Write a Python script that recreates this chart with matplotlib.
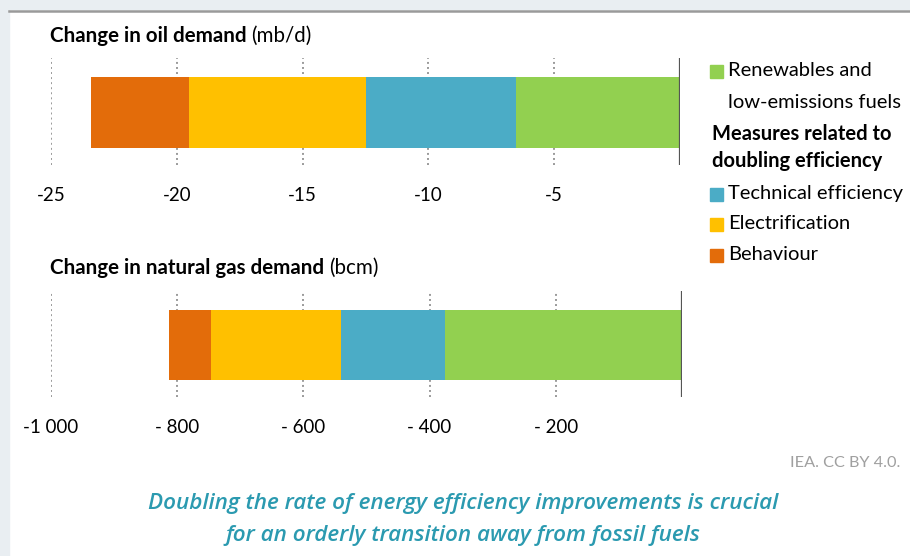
import matplotlib.pyplot as plt
from matplotlib.patches import Rectangle

W, H = 910, 556

# data (stack order: renewables next to zero, then technical, electrification, behaviour)
categories = ['Renewables and low-emissions fuels', 'Technical efficiency', 'Electrification', 'Behaviour']
colors = ['#92D050', '#4BACC6', '#FFC000', '#E36C0A']
oil_values = [-6.5, -6.0, -7.0, -3.9]
gas_values = [-375, -165, -206, -67]
oil_ticks = [-25, -20, -15, -10, -5]
oil_ticklabels = ['-25', '-20', '-15', '-10', '-5']
gas_ticks = [-1000, -800, -600, -400, -200]
gas_ticklabels = ['-1 000', '- 800', '- 600', '- 400', '- 200']

plt.rcParams['font.family'] = ['Lato', 'DejaVu Sans']


def px_axes(fig, left, top, right, bottom):
    return fig.add_axes([left / W, 1 - bottom / H, (right - left) / W, (bottom - top) / H])


def draw_bar(ax, values, ticks, ticklabels, xlim, ylim):
    left = 0
    for v, c in zip(values, colors):
        ax.barh(0, v, left=left, height=1, color=c, zorder=3)
        left += v
    for t in ticks:
        ax.axvline(t, color='#9A9A9A', linestyle=(0, (1, 1.6)), lw=1.4, zorder=1)
    ax.axvline(0, color='#555555', lw=1.6, zorder=4)
    ax.set_xlim(xlim)
    ax.set_ylim(ylim)
    ax.set_xticks(ticks, ticklabels)
    ax.set_yticks([])
    ax.tick_params(axis='x', length=0, pad=16, labelsize=13.5, labelcolor='black')
    for s in ax.spines.values():
        s.set_visible(False)
    ax.patch.set_alpha(0)


def title_text(fig, x, y, bold, normal):
    t = fig.text(x / W, 1 - y / H, bold, fontsize=14.8, fontweight='bold', va='center')
    r = fig.canvas.get_renderer()
    bb = t.get_window_extent(r)
    fig.text(bb.x1 / W + 5 / W, 1 - y / H, normal, fontsize=14.8, va='center')


fig = plt.figure(figsize=(W / 100, H / 100), dpi=100, facecolor='white')

# page frame
fig.add_artist(Rectangle((0, 0), 9 / W, 1, transform=fig.transFigure, color='#E9EEF2', zorder=0))
fig.add_artist(Rectangle((0, 1 - 9 / H), 1, 9 / H, transform=fig.transFigure, color='#E9EEF2', zorder=0))
fig.add_artist(plt.Line2D([9 / W, 1], [1 - 10.5 / H, 1 - 10.5 / H], transform=fig.transFigure,
                          color='#9A9A9A', lw=1.8))

# oil
ax1 = px_axes(fig, 51, 58, 680, 165)
draw_bar(ax1, oil_values, oil_ticks, oil_ticklabels, (-25, 0),
         (-0.5 - (165 - 147.7) / 71, 0.5 + (76.7 - 58) / 71))
title_text(fig, 50, 36, 'Change in oil demand', '(mb/d)')

# gas
ax2 = px_axes(fig, 51, 291, 682, 397)
draw_bar(ax2, gas_values, gas_ticks, gas_ticklabels, (-1000, 0),
         (-0.5 - (397 - 380) / 70, 0.5 + (310 - 291) / 70))
title_text(fig, 50, 268, 'Change in natural gas demand', '(bcm)')

# legend
LEG_FS = 14.5


def legend_item(y, color, text):
    fig.add_artist(Rectangle((710 / W, 1 - (y + 6.5) / H), 12.5 / W, 12.5 / H,
                             transform=fig.transFigure, color=color))
    fig.text(728 / W, 1 - y / H, text, fontsize=LEG_FS, va='center')


legend_item(71, colors[0], 'Renewables and')
fig.text(728 / W, 1 - 102 / H, 'low-emissions fuels', fontsize=LEG_FS, va='center')
fig.text(712 / W, 1 - 134 / H, 'Measures related to', fontsize=LEG_FS, fontweight='bold', va='center')
fig.text(712 / W, 1 - 161 / H, 'doubling efficiency', fontsize=LEG_FS, fontweight='bold', va='center')
legend_item(194, colors[1], 'Technical efficiency')
legend_item(224, colors[2], 'Electrification')
legend_item(255, colors[3], 'Behaviour')

# source and caption
fig.text(900 / W, 1 - 463 / H, 'IEA. CC BY 4.0.', fontsize=11.7, color='#A0A0A0', ha='right', va='center')
cap = dict(fontsize=16.2, color='#2B9AB0', style='italic', fontweight='semibold',
           ha='center', va='center', family=['Open Sans', 'DejaVu Sans'])
fig.text(463 / W, 1 - 503 / H, 'Doubling the rate of energy efficiency improvements is crucial', **cap)
fig.text(463 / W, 1 - 535 / H, 'for an orderly transition away from fossil fuels', **cap)

fig.savefig('out.png', dpi=100)
